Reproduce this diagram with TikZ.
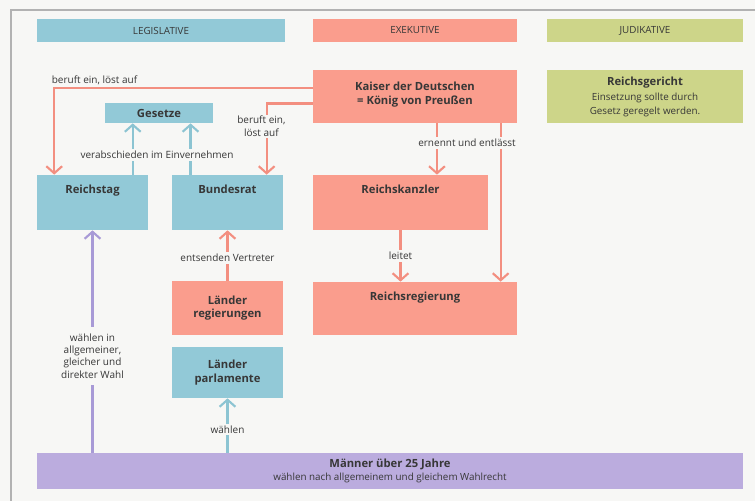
\documentclass[tikz,border=0pt]{standalone}
\usepackage{fontspec}
\setmainfont{Open Sans}
\usetikzlibrary{arrows.meta}

\definecolor{legisblue}{RGB}{146,201,215}
\definecolor{exekred}{RGB}{250,157,141}
\definecolor{judigreen}{RGB}{205,213,137}
\definecolor{volkviolet}{RGB}{187,172,222}
\definecolor{paper}{RGB}{247,247,245}
\definecolor{redline}{RGB}{243,143,128}
\definecolor{blueline}{RGB}{140,196,210}
\definecolor{violetline}{RGB}{168,154,214}
\definecolor{ink}{RGB}{55,55,55}

\newcommand{\plaintext}{\mdseries\fontsize{5.6}{7}\selectfont}

\tikzset{
  power/.style={rectangle, inner sep=0pt, text=ink,
    font=\fontsize{6.4}{7.8}\selectfont\bfseries},
  powertwo/.style={power, align=center},
  titletop/.style={text height=10.5pt, text depth=#1, inner ysep=0pt},
  headbar/.style={rectangle, inner sep=0pt, text=ink,
    font=\fontsize{5.6}{6.5}\selectfont},
  note/.style={inner sep=1pt, text=ink, align=center,
    font=\fontsize{5.7}{7}\selectfont},
  redarrow/.style={redline, line width=1.2pt, -{Straight Barb[length=4pt,width=9pt]}},
  bluearrow/.style={blueline, line width=1.2pt, -{Straight Barb[length=4pt,width=9pt]}},
  violetarrow/.style={violetline, line width=1.2pt, -{Straight Barb[length=4pt,width=9pt]}}
}

\begin{document}
\begin{tikzpicture}[x=0.02cm, y=-0.02cm]

  \newcommand{\pix}{0.02cm}

  \useasboundingbox (0,0) rectangle (755,501);
  \fill[paper] (0,0) rectangle (755,501);
  \draw[gray!60, line width=0.8pt] (11,501) -- (11,10) -- (755,10);

%% the three powers
\node (legis) at (161, 30.5) [headbar, fill=legisblue, minimum width=248*\pix,
  minimum height=23*\pix] {LEGISLATIVE};
\node (exek) at (415, 30.5) [headbar, fill=exekred, minimum width=204*\pix,
  minimum height=23*\pix] {EXEKUTIVE};
\node (judi) at (645, 30.5) [headbar, fill=judigreen, minimum width=196*\pix,
  minimum height=23*\pix] {JUDIKATIVE};

\node (kaiser) at (415, 96.5) [powertwo, fill=exekred, minimum width=204*\pix,
  minimum height=53*\pix] {Kaiser der Deutschen\\= König von Preußen\\[-4pt]};
\node (gericht) at (645, 96.5) [powertwo, fill=judigreen, minimum width=196*\pix,
  minimum height=53*\pix] {Reichsgericht\\[1pt]\plaintext Einsetzung sollte durch\\
  \plaintext Gesetz geregelt werden.};

\node (gesetze) at (159, 113) [power, fill=legisblue, minimum width=108*\pix,
  minimum height=20*\pix] {Gesetze};

\node (reichstag) at (92.5, 202.5) [power, titletop=20.5pt, fill=legisblue,
  minimum width=111*\pix, minimum height=55*\pix] {Reichstag};
\node (bundesrat) at (227.5, 202.5) [power, titletop=20.5pt, fill=legisblue,
  minimum width=111*\pix, minimum height=55*\pix] {Bundesrat};
\node (kanzler) at (400.5, 202.5) [power, titletop=20.5pt, fill=exekred,
  minimum width=175*\pix, minimum height=55*\pix] {Reichskanzler};
\node (regierung) at (415, 308.5) [power, titletop=19.5pt, fill=exekred,
  minimum width=204*\pix, minimum height=53*\pix] {Reichsregierung};

\node (laenderreg) at (227.5, 308) [powertwo, fill=exekred, minimum width=111*\pix,
  minimum height=54*\pix] {Länder\\regierungen};
\node (laenderparl) at (227.5, 372.5) [powertwo, fill=legisblue, minimum width=111*\pix,
  minimum height=51*\pix] {Länder\\parlamente};

\node (maenner) at (390, 471) [powertwo, fill=volkviolet, minimum width=706*\pix,
  minimum height=36*\pix] {Männer über 25 Jahre\\\plaintext
  wählen nach allgemeinem und gleichem Wahlrecht};

%% kaiser calls and dissolves
\draw[redarrow] ([yshift=5pt]kaiser.west) -| ([xshift=10pt]reichstag.north west)
  node[note, pos=0.5, anchor=south west, xshift=-3pt] {beruft ein, löst auf};
\draw[redarrow] ([yshift=-4pt]kaiser.west) -| ([xshift=-9.5pt]bundesrat.north east)
  node[note, pos=0.66, fill=paper, xshift=-3pt] {beruft ein,\\löst auf};

%% laws
\coordinate (law1) at ([xshift=16pt]gesetze.south west);
\coordinate (law2) at ([xshift=-13pt]gesetze.south east);
\draw[bluearrow] (law1 |- reichstag.north) -- (law1);
\draw[bluearrow] (law2 |- bundesrat.north) -- (law2);
\node (einvernehmen) at (157, 155) [note, fill=paper] {verabschieden im Einvernehmen};

%% executive
\coordinate (appoint1) at ([xshift=12.5pt]kaiser.south);
\coordinate (appoint2) at ([xshift=-9.5pt]kaiser.south east);
\draw[redarrow] (appoint1) -- (appoint1 |- kanzler.north);
\draw[redarrow] (appoint2) -- (appoint2 |- regierung.north);
\node (ernennt) at (467, 143) [note, fill=paper] {ernennt und entlässt};

\draw[redarrow] (kanzler.south) -- (kanzler.south |- regierung.north)
  node[note, midway, fill=paper] {leitet};

%% states
\draw[redarrow] (laenderreg.north) -- (bundesrat.south)
  node[note, pos=0.45, fill=paper] {entsenden Vertreter};
\draw[bluearrow] (laenderparl.south |- maenner.north) -- (laenderparl.south)
  node[note, pos=0.42, fill=paper] {wählen};

%% elections
\draw[violetarrow] (reichstag.south |- maenner.north) -- (reichstag.south)
  node[note, pos=0.435, fill=paper, inner ysep=4pt]
  {wählen in\\allgemeiner,\\gleicher und\\direkter Wahl};

\end{tikzpicture}
\end{document}
